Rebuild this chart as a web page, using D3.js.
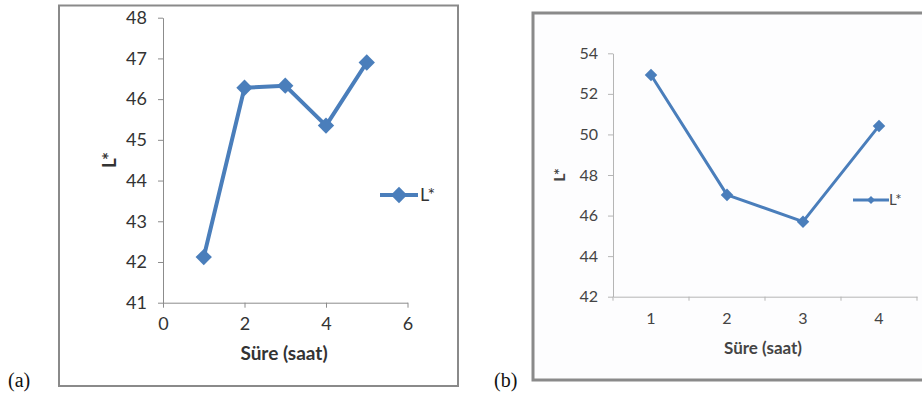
<!DOCTYPE html>
<html><head><meta charset="utf-8">
<script src="https://cdn.jsdelivr.net/npm/d3@7"></script>
<style>body{margin:0;background:#fff}svg{display:block}</style>
</head><body>
<svg id="c" width="922" height="394"></svg>
<script>
// Panel (a)
const aX = [1, 2, 3, 4, 5];
const aY = [42.12, 46.28, 46.33, 45.35, 46.9];
const aXTicks = [0, 2, 4, 6];
const aYTicks = [41, 42, 43, 44, 45, 46, 47, 48];
// Panel (b)
const bCats = ["1", "2", "3", "4"];
const bY = [52.93, 47.02, 45.7, 50.42];
const bYTicks = [42, 44, 46, 48, 50, 52, 54];
const seriesName = "L*";
const xTitle = "Süre (saat)";

const svg = d3.select("#c");
const blue = "#4a7ebb";
const axisCol = "#8c8c8c";
const font = "Lato, 'Open Sans', sans-serif";

// ---------- Panel (a) ----------
svg.append("rect").attr("x", 59).attr("y", 5.5).attr("width", 399).attr("height", 380.5)
  .attr("fill", "#fff").attr("stroke", "#8a8a8a").attr("stroke-width", 2);

const ax = d3.scaleLinear().domain([0, 6]).range([163, 407.5]);
const ay = d3.scaleLinear().domain([41, 48]).range([302.7, 17.7]);

const gaY = svg.append("g").attr("transform", "translate(163,0)")
  .call(d3.axisLeft(ay).tickValues(aYTicks).tickFormat(d3.format("d")).tickSize(5).tickSizeOuter(0).tickPadding(11));
const gaX = svg.append("g").attr("transform", "translate(0,302.7)")
  .call(d3.axisBottom(ax).tickValues(aXTicks).tickFormat(d3.format("d")).tickSize(5).tickSizeOuter(0).tickPadding(10));
[gaY, gaX].forEach(g => {
  g.selectAll("path,line").attr("stroke", axisCol);
  g.selectAll("text").attr("font-family", font).attr("font-size", 18).attr("fill", "#333");
});

svg.append("path").datum(aX.map((x, i) => [x, aY[i]]))
  .attr("fill", "none").attr("stroke", blue).attr("stroke-width", 4).attr("stroke-linejoin", "round")
  .attr("d", d3.line().x(d => ax(d[0])).y(d => ay(d[1])));
const diamondA = d3.symbol().type(d3.symbolDiamond2).size(170);
svg.append("g").selectAll("path").data(aX.map((x, i) => [x, aY[i]])).join("path")
  .attr("d", diamondA).attr("fill", blue)
  .attr("transform", d => `translate(${ax(d[0])},${ay(d[1])})`);

svg.append("text").attr("x", 284).attr("y", 360).attr("text-anchor", "middle")
  .attr("font-family", font).attr("font-weight", "bold").attr("font-size", 19).attr("fill", "#333").text(xTitle);
svg.append("text").attr("transform", "translate(116,160) rotate(-90)").attr("text-anchor", "middle")
  .attr("font-family", font).attr("font-weight", "bold").attr("font-size", 19).attr("fill", "#333").text(seriesName);

svg.append("line").attr("x1", 380).attr("x2", 418).attr("y1", 195).attr("y2", 195)
  .attr("stroke", blue).attr("stroke-width", 4);
svg.append("path").attr("d", diamondA).attr("fill", blue).attr("transform", "translate(399,195)");
svg.append("text").attr("x", 420).attr("y", 201).attr("font-family", font).attr("font-size", 18)
  .attr("fill", "#333").text(seriesName);

svg.append("text").attr("x", 8).attr("y", 387).attr("font-family", "'Liberation Serif', 'Times New Roman', serif")
  .attr("font-size", 20).attr("fill", "#111").text("(a)");

// ---------- Panel (b) ----------
svg.append("rect").attr("x", 533).attr("y", 13).attr("width", 400).attr("height", 367)
  .attr("fill", "#fdfdfe").attr("stroke", "#8a8a8a").attr("stroke-width", 3);

const bx = d3.scaleBand().domain(bCats).range([613, 917]);
const by = d3.scaleLinear().domain([42, 54]).range([296.7, 53.3]);

const gbY = svg.append("g").attr("transform", "translate(613,0)")
  .call(d3.axisLeft(by).tickValues(bYTicks).tickSize(5).tickSizeOuter(0).tickPadding(10));
const gbX = svg.append("g").attr("transform", "translate(0,296.7)")
  .call(d3.axisBottom(bx).tickSize(0).tickSizeOuter(0).tickPadding(16));
// category boundary ticks
gbX.selectAll(".bt").data(bCats.concat(["end"])).join("line")
  .attr("x1", (d, i) => 613 + i * bx.bandwidth()).attr("x2", (d, i) => 613 + i * bx.bandwidth())
  .attr("y1", 0).attr("y2", 4).attr("stroke", axisCol);
[gbY, gbX].forEach(g => {
  g.selectAll("path,line").attr("stroke", "#b5b5b5");
  g.selectAll("text").attr("font-family", font).attr("font-size", 16).attr("fill", "#444");
});

const bPts = bCats.map((c, i) => [bx(c) + bx.bandwidth() / 2, by(bY[i])]);
svg.append("path").datum(bPts).attr("fill", "none").attr("stroke", blue).attr("stroke-width", 3)
  .attr("stroke-linejoin", "round").attr("d", d3.line());
const diamondB = d3.symbol().type(d3.symbolDiamond2).size(100);
svg.append("g").selectAll("path").data(bPts).join("path")
  .attr("d", diamondB).attr("fill", blue).attr("transform", d => `translate(${d[0]},${d[1]})`);

svg.append("text").attr("x", 763).attr("y", 354).attr("text-anchor", "middle")
  .attr("font-family", font).attr("font-weight", "bold").attr("font-size", 17).attr("fill", "#444").text(xTitle);
svg.append("text").attr("transform", "translate(565,175) rotate(-90)").attr("text-anchor", "middle")
  .attr("font-family", font).attr("font-weight", "bold").attr("font-size", 16).attr("fill", "#444").text(seriesName);

svg.append("line").attr("x1", 853).attr("x2", 889).attr("y1", 200).attr("y2", 200)
  .attr("stroke", blue).attr("stroke-width", 3);
svg.append("path").attr("d", d3.symbol().type(d3.symbolDiamond2).size(40)).attr("fill", blue)
  .attr("transform", "translate(871,200)");
svg.append("text").attr("x", 889).attr("y", 205).attr("font-family", font).attr("font-size", 15)
  .attr("fill", "#444").text(seriesName);

svg.append("text").attr("x", 494).attr("y", 387).attr("font-family", "'Liberation Serif', 'Times New Roman', serif")
  .attr("font-size", 20).attr("fill", "#111").text("(b)");
</script>
</body></html>
